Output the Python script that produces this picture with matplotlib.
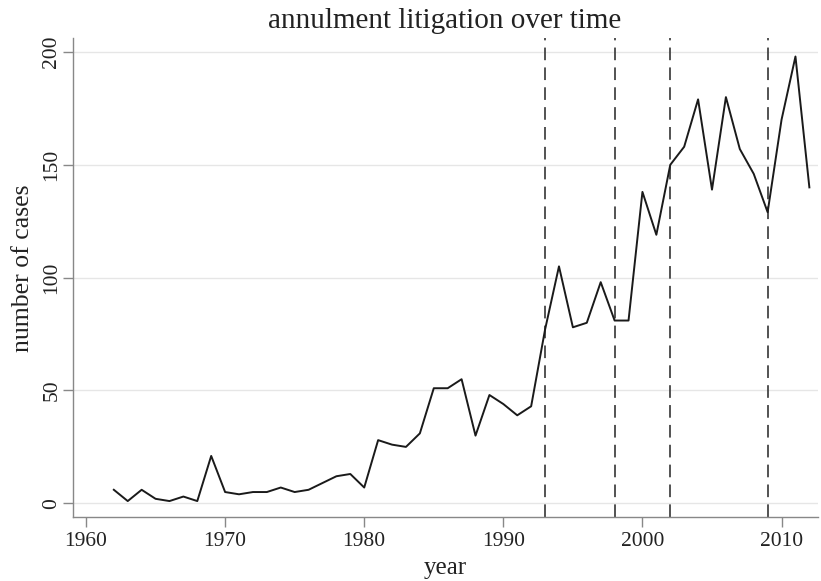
import matplotlib
matplotlib.use("Agg")
import matplotlib.pyplot as plt

years = list(range(1962, 2013))
cases = [6, 1, 6, 2, 1, 3, 1, 21, 5, 4,
         5, 5, 7, 5, 6, 9, 12, 13, 7, 28,
         26, 25, 31, 51, 51, 55, 30, 48, 44, 39,
         43, 77, 105, 78, 80, 98, 81, 81, 138, 119,
         150, 158, 179, 139, 180, 157, 146, 129, 170, 198,
         140]
event_years = [1993, 1998, 2002, 2009]
xticks = [1960, 1970, 1980, 1990, 2000, 2010]
yticks = [0, 50, 100, 150, 200]

plt.rcParams['font.family'] = ['Liberation Serif', 'DejaVu Serif']

fig = plt.figure(figsize=(8.21, 5.81), dpi=100)
ax = fig.add_axes([0.089, 0.110, 0.907, 0.825])

for y in yticks:
    ax.axhline(y, color='#e6e6e6', lw=1.0, zorder=0)

ax.plot(years, cases, color='#1a1a1a', lw=1.4, zorder=3)
for ey in event_years:
    ax.axvline(ey, color='#444444', lw=1.3, dashes=(7, 4), zorder=2)

ax.set_xlim(1959.07, 2012.6)
ax.set_ylim(-6.1, 206.3)
ax.set_xticks(xticks)
ax.set_yticks(yticks)
ax.set_yticklabels([str(v) for v in yticks], rotation=90, va='center')
ax.tick_params(axis='both', direction='out', length=7, width=1.0, color='#888888',
               labelsize=15.5, labelcolor='#222222')
ax.tick_params(axis='x', pad=4)
ax.tick_params(axis='y', pad=1.5)

for s in ['top', 'right']:
    ax.spines[s].set_visible(False)
for s in ['left', 'bottom']:
    ax.spines[s].set_color('#888888')
    ax.spines[s].set_linewidth(1.0)

ax.set_xlabel('year', fontsize=18, color='#222222', labelpad=4)
ax.set_ylabel('number of cases', fontsize=18.5, color='#222222')
ax.yaxis.set_label_coords(-0.052, 0.52)
fig.text(0.542, 1 - 28 / 581, 'annulment litigation over time', fontsize=21,
         color='#222222', ha='center', va='baseline')

fig.savefig('out.png', dpi=100, facecolor='white')
